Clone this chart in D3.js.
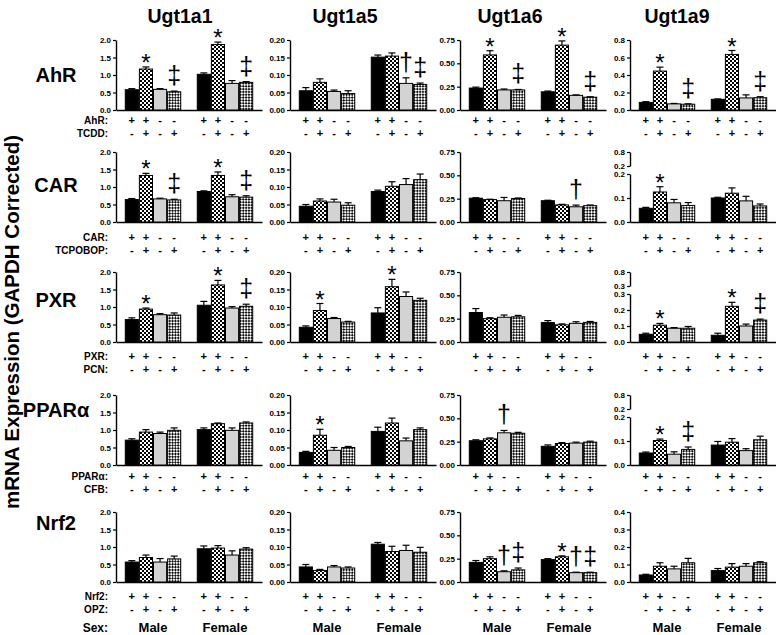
<!DOCTYPE html>
<html><head><meta charset="utf-8">
<script src="https://cdn.jsdelivr.net/npm/d3@7"></script>
<style>body{margin:0;background:#fff} svg{display:block}</style>
</head><body><svg id="chart" width="776" height="635"></svg>
<script>
// ---------------- DATA ----------------
const genes = ["Ugt1a1", "Ugt1a5", "Ugt1a6", "Ugt1a9"];
const receptors = ["AhR", "CAR", "PXR", "PPARα", "Nrf2"];
const treatments = ["TCDD", "TCPOBOP", "PCN", "CFB", "OPZ"];
const sexes = ["Male", "Female"];
const conditions = ["WT", "WT+ligand", "KO", "KO+ligand"];
const genotypeSigns = ["+", "+", "-", "-"];
const ligandSigns = ["-", "+", "-", "+"];

// y-axis ticks per gene (column)
const ticksUgt1a1 = [0, 0.5, 1.0, 1.5, 2.0];
const ticksUgt1a5 = [0, 0.05, 0.10, 0.15, 0.20];
const ticksUgt1a6 = [0, 0.25, 0.50, 0.75];
const ticksUgt1a9 = [0, 0.2, 0.4, 0.6, 0.8];
const ticksUgt1a9Nrf2 = [0, 0.1, 0.2, 0.3, 0.4];
// broken Ugt1a9 axes (CAR, PXR, PPARα rows): lower segment max, lower ticks, upper top
const ugt1a9BreakAt = [null, 0.2, 0.3, 0.2, null];
const ugt1a9LowerTicks = [null, [0, 0.1, 0.2], [0, 0.1, 0.2, 0.3], [0, 0.1, 0.2], null];
const ugt1a9UpperTop = 0.8;

// values per gene: [Male x4 conditions, Female x4 conditions]
const ahrMeans = [
  [0.58, 1.17, 0.59, 0.52, 1.02, 1.87, 0.76, 0.79],
  [0.055, 0.079, 0.053, 0.047, 0.151, 0.154, 0.076, 0.073],
  [0.235, 0.59, 0.215, 0.215, 0.195, 0.695, 0.157, 0.137],
  [0.087, 0.445, 0.07, 0.066, 0.122, 0.635, 0.138, 0.14]
];
const ahrErrors = [
  [0.03, 0.06, 0.02, 0.02, 0.04, 0.07, 0.08, 0.02],
  [0.009, 0.01, 0.004, 0.008, 0.006, 0.009, 0.016, 0.004],
  [0.01, 0.045, 0.01, 0.005, 0.008, 0.045, 0.005, 0.005],
  [0.008, 0.045, 0.005, 0.005, 0.005, 0.045, 0.035, 0.012]
];
const ahrMarks = [
  ["", "*", "", "‡", "", "*", "", "‡"],
  ["", "", "", "", "", "", "†", "‡"],
  ["", "*", "", "‡", "", "*", "", "‡"],
  ["", "*", "", "‡", "", "*", "", "‡"]
];

const carMeans = [
  [0.64, 1.33, 0.66, 0.63, 0.87, 1.33, 0.72, 0.71],
  [0.045, 0.06, 0.057, 0.048, 0.087, 0.102, 0.107, 0.121],
  [0.255, 0.24, 0.228, 0.252, 0.228, 0.183, 0.163, 0.175],
  [0.057, 0.125, 0.08, 0.069, 0.1, 0.12, 0.088, 0.067]
];
const carErrors = [
  [0.03, 0.06, 0.02, 0.02, 0.02, 0.1, 0.06, 0.04],
  [0.005, 0.006, 0.008, 0.007, 0.004, 0.013, 0.017, 0.016],
  [0.005, 0.004, 0.035, 0.005, 0.005, 0.006, 0.018, 0.007],
  [0.004, 0.022, 0.014, 0.012, 0.003, 0.022, 0.019, 0.008]
];
const carMarks = [
  ["", "*", "", "‡", "", "*", "", "‡"],
  ["", "", "", "", "", "", "", ""],
  ["", "", "", "", "", "", "†", ""],
  ["", "*", "", "", "", "", "", ""]
];

const pxrMeans = [
  [0.64, 0.94, 0.78, 0.77, 1.05, 1.63, 0.97, 1.02],
  [0.042, 0.09, 0.067, 0.057, 0.083, 0.158, 0.13, 0.119],
  [0.316, 0.25, 0.265, 0.27, 0.208, 0.184, 0.2, 0.21],
  [0.048, 0.105, 0.086, 0.086, 0.042, 0.223, 0.1, 0.137]
];
const pxrErrors = [
  [0.05, 0.03, 0.03, 0.06, 0.11, 0.13, 0.04, 0.06],
  [0.004, 0.02, 0.003, 0.002, 0.015, 0.021, 0.013, 0.006],
  [0.042, 0.01, 0.024, 0.015, 0.021, 0.01, 0.017, 0.01],
  [0.007, 0.011, 0.004, 0.011, 0.013, 0.025, 0.012, 0.006]
];
const pxrMarks = [
  ["", "*", "", "", "", "*", "", "‡"],
  ["", "*", "", "", "", "*", "", ""],
  ["", "", "", "", "", "", "", ""],
  ["", "*", "", "", "", "*", "", "‡"]
];

const pparaMeans = [
  [0.71, 0.94, 0.9, 0.99, 1.01, 1.18, 0.99, 1.2],
  [0.036, 0.085, 0.042, 0.05, 0.096, 0.12, 0.069, 0.101],
  [0.26, 0.28, 0.345, 0.34, 0.2, 0.23, 0.235, 0.245],
  [0.05, 0.102, 0.045, 0.065, 0.083, 0.095, 0.06, 0.105]
];
const pparaErrors = [
  [0.04, 0.07, 0.04, 0.07, 0.05, 0.02, 0.07, 0.03],
  [0.003, 0.017, 0.008, 0.003, 0.012, 0.014, 0.008, 0.005],
  [0.01, 0.01, 0.025, 0.01, 0.015, 0.01, 0.01, 0.01],
  [0.004, 0.006, 0.01, 0.01, 0.015, 0.015, 0.008, 0.015]
];
const pparaMarks = [
  ["", "", "", "", "", "", "", ""],
  ["", "*", "", "", "", "", "", ""],
  ["", "", "†", "", "", "", "", ""],
  ["", "*", "", "‡", "", "", "", ""]
];

const nrf2Means = [
  [0.57, 0.7, 0.57, 0.66, 0.95, 0.97, 0.77, 0.94],
  [0.043, 0.033, 0.043, 0.04, 0.108, 0.087, 0.09, 0.085],
  [0.21, 0.25, 0.11, 0.13, 0.24, 0.27, 0.1, 0.1],
  [0.04, 0.09, 0.075, 0.11, 0.065, 0.085, 0.09, 0.11]
];
const nrf2Errors = [
  [0.04, 0.07, 0.1, 0.08, 0.08, 0.07, 0.12, 0.04],
  [0.007, 0.003, 0.004, 0.003, 0.005, 0.015, 0.015, 0.014],
  [0.02, 0.02, 0.01, 0.02, 0.01, 0.01, 0.005, 0.005],
  [0.004, 0.02, 0.015, 0.025, 0.012, 0.02, 0.015, 0.006]
];
const nrf2Marks = [
  ["", "", "", "", "", "", "", ""],
  ["", "", "", "", "", "", "", ""],
  ["", "", "†", "‡", "", "*", "†", "‡"],
  ["", "", "", "", "", "", "", ""]
];

// ---------------- BUILD ----------------
const rowsData = [
  { means: ahrMeans, errors: ahrErrors, marks: ahrMarks },
  { means: carMeans, errors: carErrors, marks: carMarks },
  { means: pxrMeans, errors: pxrErrors, marks: pxrMarks },
  { means: pparaMeans, errors: pparaErrors, marks: pparaMarks },
  { means: nrf2Means, errors: nrf2Errors, marks: nrf2Marks }
];
const geneTicks = [ticksUgt1a1, ticksUgt1a5, ticksUgt1a6, ticksUgt1a9];
const geneFormats = [".1f", ".2f", ".2f", ".1f"];

const FONT = "'Liberation Sans', Arial, Helvetica, sans-serif";
const svg = d3.select("#chart");

// layout
const panelLeft = [116, 290, 460, 630];
const baselines = [110, 222, 342, 465, 582];
const panelH = 70;
const signRowY = [120, 237, 356, 476, 596];
const rowLabelY = [75, 185, 300, 410, 523];
const titleX = [180, 345, 510, 677];

// patterns
const defs = svg.append("defs");
const pA = defs.append("pattern").attr("id", "pDense").attr("patternUnits", "userSpaceOnUse")
  .attr("width", 4).attr("height", 4);
pA.append("rect").attr("width", 4).attr("height", 4).attr("fill", "#fff");
pA.append("rect").attr("width", 2).attr("height", 2).attr("fill", "#000");
pA.append("rect").attr("x", 2).attr("y", 2).attr("width", 2).attr("height", 2).attr("fill", "#000");
const pB = defs.append("pattern").attr("id", "pOpen").attr("patternUnits", "userSpaceOnUse")
  .attr("width", 4).attr("height", 4).attr("patternTransform", "rotate(45)");
pB.append("rect").attr("width", 4).attr("height", 4).attr("fill", "#fff");
pB.append("rect").attr("width", 2).attr("height", 2).attr("fill", "#111");
pB.append("rect").attr("x", 2).attr("y", 2).attr("width", 2).attr("height", 2).attr("fill", "#111");
const condFill = d3.scaleOrdinal().domain(conditions).range(["#000", "url(#pDense)", "#d3d3d3", "url(#pOpen)"]);

const xOuter = d3.scaleBand().domain(sexes).range([0, 146]).paddingInner(0.222).paddingOuter(0.125);
const xInner = d3.scaleBand().domain(conditions).range([0, xOuter.bandwidth()]).paddingInner(0.07).paddingOuter(0.02);

function styleAxis(g) {
  g.attr("font-family", FONT).attr("font-size", 8).attr("font-weight", "bold");
  g.selectAll(".domain").attr("stroke", "#000").attr("stroke-width", 1.4);
  g.selectAll(".tick line").attr("stroke", "#000").attr("stroke-width", 1.2);
  g.selectAll(".tick text").attr("fill", "#000");
}

// titles
svg.selectAll("text.coltitle").data(genes).enter().append("text")
  .attr("class", "coltitle")
  .attr("x", (d, i) => titleX[i]).attr("y", 23)
  .attr("text-anchor", "middle").attr("font-family", FONT)
  .attr("font-size", 19.5).attr("font-weight", "bold").text(d => d);

svg.selectAll("text.rowlabel").data(receptors).enter().append("text")
  .attr("class", "rowlabel")
  .attr("x", 56).attr("y", (d, i) => rowLabelY[i] + 7)
  .attr("text-anchor", "middle").attr("font-family", FONT)
  .attr("font-size", 20).attr("font-weight", "bold").text(d => d);

svg.append("text")
  .attr("transform", "translate(19,322) rotate(-90)")
  .attr("text-anchor", "middle").attr("font-family", FONT)
  .attr("font-size", 20.5).attr("font-weight", "bold")
  .text("mRNA Expression (GAPDH Corrected)");

rowsData.forEach((row, r) => {
  const base = baselines[r];
  genes.forEach((gene, g) => {
    const gx = panelLeft[g];
    const grp = svg.append("g").attr("transform", `translate(${gx},0)`);
    let y;
    const brk = g === 3 ? ugt1a9BreakAt[r] : null;
    if (brk) {
      y = d3.scaleLinear().domain([0, brk]).range([base, base - 48]);
      const yUp = d3.scaleLinear().domain([brk, ugt1a9UpperTop]).range([base - 56, base - panelH]);
      grp.append("g").call(d3.axisLeft(y).tickValues(ugt1a9LowerTicks[r]).tickFormat(d3.format(".1f"))
        .tickSize(3).tickSizeOuter(0).tickPadding(2)).call(styleAxis);
      grp.append("g").call(d3.axisLeft(yUp).tickValues([brk, ugt1a9UpperTop]).tickFormat(d3.format(".1f"))
        .tickSize(3).tickSizeOuter(0).tickPadding(2)).call(styleAxis);
    } else {
      const ticks = (g === 3 && r === 4) ? ticksUgt1a9Nrf2 : geneTicks[g];
      y = d3.scaleLinear().domain([0, d3.max(ticks)]).range([base, base - panelH]);
      grp.append("g").call(d3.axisLeft(y).tickValues(ticks).tickFormat(d3.format(geneFormats[g]))
        .tickSize(3).tickSizeOuter(0).tickPadding(2)).call(styleAxis);
    }
    // x axis
    grp.append("g").attr("transform", `translate(0,${base})`)
      .call(d3.axisBottom(xOuter).tickSize(0).tickFormat(""))
      .call(g2 => g2.selectAll(".domain").attr("stroke", "#000").attr("stroke-width", 1.5));

    const vals = [];
    sexes.forEach((s, si) => conditions.forEach((c, ci) => {
      const k = si * 4 + ci;
      vals.push({ sex: s, cond: c, mean: row.means[g][k], err: row.errors[g][k], mark: row.marks[g][k] });
    }));
    const cx = d => xOuter(d.sex) + xInner(d.cond) + xInner.bandwidth() / 2;

    grp.selectAll("rect.bar").data(vals).enter().append("rect")
      .attr("class", "bar")
      .attr("x", d => xOuter(d.sex) + xInner(d.cond))
      .attr("width", xInner.bandwidth())
      .attr("y", d => y(d.mean))
      .attr("height", d => base - y(d.mean))
      .attr("fill", d => condFill(d.cond))
      .attr("stroke", "#000").attr("stroke-width", 1);

    grp.selectAll("line.err").data(vals).enter().append("line")
      .attr("class", "err")
      .attr("x1", cx).attr("x2", cx)
      .attr("y1", d => y(d.mean)).attr("y2", d => y(d.mean + d.err))
      .attr("stroke", "#000").attr("stroke-width", 1.2);
    grp.selectAll("line.cap").data(vals).enter().append("line")
      .attr("class", "cap")
      .attr("x1", d => cx(d) - 3.5).attr("x2", d => cx(d) + 3.5)
      .attr("y1", d => y(d.mean + d.err)).attr("y2", d => y(d.mean + d.err))
      .attr("stroke", "#000").attr("stroke-width", 1.2);

    grp.selectAll("text.mark").data(vals.filter(d => d.mark)).enter().append("text")
      .attr("class", "mark")
      .attr("x", cx)
      .attr("y", d => y(d.mean + d.err) + (d.mark === "*" ? 4 : -7))
      .attr("text-anchor", "middle").attr("font-family", FONT)
      .attr("font-size", d => d.mark === "*" ? 24 : 25)
      .text(d => d.mark);

    // +/- rows
    [genotypeSigns, ligandSigns].forEach((signs, li) => {
      grp.selectAll(`text.sign${li}`).data(vals).enter().append("text")
        .attr("class", `sign${li}`)
        .attr("x", cx)
        .attr("y", signRowY[r] + li * 13 + 4)
        .attr("text-anchor", "middle").attr("font-family", FONT)
        .attr("font-size", 11).attr("font-weight", "bold")
        .text(d => signs[conditions.indexOf(d.cond)]);
    });

    if (r === rowsData.length - 1) {
      grp.selectAll("text.sex").data(sexes).enter().append("text")
        .attr("class", "sex")
        .attr("x", s => xOuter(s) + xOuter.bandwidth() / 2)
        .attr("y", 632)
        .attr("text-anchor", "middle").attr("font-family", FONT)
        .attr("font-size", 13).attr("font-weight", "bold").text(s => s);
    }
  });
  // row condition labels (first column)
  [receptors[r] + ":", treatments[r] + ":"].forEach((t, li) => {
    svg.append("text").attr("x", 108).attr("y", signRowY[r] + li * 13 + 4)
      .attr("text-anchor", "end").attr("font-family", FONT)
      .attr("font-size", 10).attr("font-weight", "bold").text(t);
  });
});
svg.append("text").attr("x", 108).attr("y", 632)
  .attr("text-anchor", "end").attr("font-family", FONT)
  .attr("font-size", 12).attr("font-weight", "bold").text("Sex:");
</script>
</body></html>
